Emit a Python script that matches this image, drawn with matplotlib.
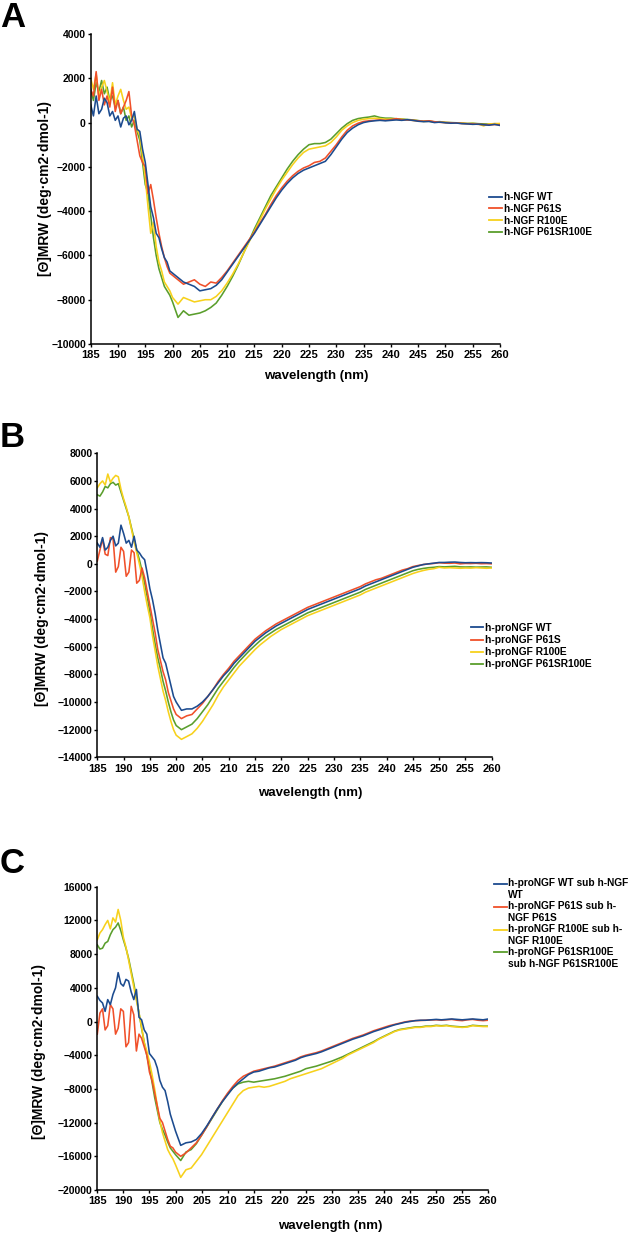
import numpy as np
import matplotlib
matplotlib.use("Agg")
import matplotlib.pyplot as plt
from matplotlib.legend_handler import HandlerLine2D

plt.rcParams['font.family'] = ['Liberation Sans', 'DejaVu Sans']
plt.rcParams['font.weight'] = 'bold'

# 0.5 nm steps 185-200, then 1 nm steps 201-260
wavelength = [185 + 0.5 * i for i in range(31)] + list(range(201, 261))

# ---------- Panel A: h-NGF ----------
A_WT = [800, 300, 1200, 400, 600, 1100, 900, 300, 500, 100,
        300, -200, 200, 300, -100, 100, 500, -300, -400, -1200,
        -1800, -2800, -3800, -4300, -5000, -5200, -5700, -6100, -6300, -6700, -6800,
        -7000, -7200, -7300, -7400,
        -7600, -7550, -7500, -7350, -7100, -6750, -6400, -6050, -5700, -5350,
        -5000, -4600, -4200, -3800, -3400, -3050, -2750, -2500, -2300, -2150,
        -2050, -1950, -1850, -1750, -1450, -1100, -750, -450, -250, -100,
        0, 50, 80, 100, 80, 100, 120, 100, 130, 100,
        60, 40, 50, 0, 20, -10, -30, -20, -50, -60,
        -80, -70, -100, -120, -80, -130]
A_P61S = [1500, 1200, 2300, 1000, 1500, 800, 1200, 700, 1600, 500,
          1000, 400, 700, 1000, 1400, 300, -100, -800, -1500, -1800,
          -2000, -3200, -2800, -3500, -4300, -5000, -5600, -6100, -6500, -6800, -6900,
          -7100, -7300, -7200, -7100,
          -7300, -7400, -7200, -7250, -7000, -6700, -6350, -6000, -5650, -5300,
          -4950, -4550, -4150, -3700, -3300, -2950, -2650, -2400, -2200, -2050,
          -1950, -1800, -1750, -1600, -1300, -1000, -650, -350, -150, -30,
          50, 80, 100, 120, 100, 130, 180, 130, 120, 100,
          80, 60, 80, 40, 10, 0, -10, -20, -40, -50,
          -60, -80, -90, -100, -90, -100]
A_R100E = [2000, 1500, 2200, 1200, 1600, 1900, 1400, 900, 1800, 800,
           1200, 1500, 1000, 600, 700, 200, 300, -300, -600, -1500,
           -2500, -3800, -5000, -4500, -5600, -6300, -6700, -7200, -7400, -7600, -7900,
           -8200, -7900, -8000, -8100,
           -8050, -8000, -8000, -7850, -7600, -7250, -6850, -6400, -5900, -5400,
           -4900, -4400, -3900, -3450, -3000, -2600, -2250, -1900, -1600, -1350,
           -1200, -1150, -1100, -1050, -900, -650, -350, -150, 0, 100,
           150, 180, 200, 180, 150, 160, 140, 150, 120, 100,
           80, 50, 60, 20, 30, 0, -10, -20, -30, -50,
           -40, -60, -150, -60, -50, -40]
A_P61SR100E = [1500, 1000, 1800, 1400, 1900, 1300, 1600, 1000, 1200, 700,
               1000, 400, 700, 100, 300, -200, 100, -400, -800, -1800,
               -2800, -3200, -4200, -5200, -6000, -6600, -7000, -7400, -7600, -7800, -8100,
               -8800, -8500, -8700, -8650,
               -8600, -8500, -8350, -8150, -7800, -7400, -6950, -6450, -5900, -5350,
               -4800, -4300, -3800, -3300, -2900, -2500, -2100, -1750, -1450, -1200,
               -1000, -950, -950, -900, -750, -500, -250, -50, 100, 180,
               220, 250, 300, 230, 200, 200, 170, 160, 140, 120,
               90, 60, 70, 30, 40, 10, 0, -10, -20, -40,
               -30, -50, -60, -70, -50, -60]

# ---------- Panel B: h-proNGF ----------
B_WT = [1500, 1200, 1900, 1000, 1200, 1700, 2000, 1300, 1500, 2800,
        2200, 1500, 1700, 1200, 2000, 1000, 800, 500, 300, -700,
        -1800, -2600, -3600, -4800, -5800, -6800, -7200, -8000, -8800, -9600, -10000,
        -10600, -10500, -10500, -10300,
        -10000, -9600, -9100, -8600, -8100, -7700, -7200, -6800, -6400, -6000,
        -5600, -5300, -5000, -4750, -4500, -4300, -4100, -3900, -3700, -3500,
        -3300, -3150, -3000, -2850, -2700, -2550, -2400, -2250, -2100, -1950,
        -1800, -1600, -1450, -1300, -1150, -1000, -850, -700, -550, -400,
        -250, -150, -50, 0, 50, 100, 100, 120, 130, 100,
        80, 90, 80, 90, 80, 60]
B_P61S = [200, 1000, 1800, 700, 600, 1900, 1800, -600, -200, 1200,
          900, -900, -600, 1000, 800, -1400, -1200, -300, -1000, -2000,
          -3000, -4000, -5000, -6200, -7000, -7800, -8400, -9300, -9900, -10500, -10900,
          -11200, -11000, -10900, -10500,
          -10100, -9600, -9100, -8500, -8000, -7550, -7050, -6650, -6250, -5850,
          -5450, -5150, -4850, -4600, -4350, -4150, -3950, -3750, -3550, -3350,
          -3150, -3000, -2850, -2700, -2550, -2400, -2250, -2100, -1950, -1800,
          -1650, -1450, -1300, -1150, -1050, -900, -750, -600, -450, -350,
          -200, -120, -50, 0, 30, 80, 50, 40, 60, 0,
          30, 20, 40, 10, 20, 0]
B_R100E = [5500, 5800, 6000, 5700, 6500, 5900, 6200, 6400, 6300, 5400,
           4700, 4100, 3400, 2500, 1600, 800, 0, -900, -2000, -3000,
           -3900, -5200, -6300, -7400, -8300, -9200, -9900, -10700, -11400, -12000, -12400,
           -12700, -12500, -12300, -11900,
           -11400, -10800, -10200, -9500, -8900, -8400, -7900, -7400, -7000, -6600,
           -6200, -5850, -5550, -5250, -5000, -4750, -4550, -4350, -4150, -3950,
           -3750, -3600, -3450, -3300, -3150, -3000, -2850, -2700, -2550, -2400,
           -2250, -2050, -1900, -1750, -1600, -1450, -1300, -1150, -1000, -850,
           -700, -580, -480, -400, -350, -250, -300, -280, -300, -320,
           -300, -310, -280, -300, -320, -300]
B_P61SR100E = [5000, 4900, 5200, 5600, 5500, 5800, 5900, 5700, 5800, 5200,
               4600, 4000, 3400, 2600, 1800, 1000, 300, -500, -1400, -2400,
               -3500, -4700, -5800, -6800, -7600, -8500, -9200, -10000, -10700, -11300, -11700,
               -12000, -11800, -11600, -11200,
               -10700, -10200, -9600, -9000, -8500, -8000, -7500, -7050, -6650, -6250,
               -5900, -5550, -5250, -5000, -4750, -4550, -4350, -4150, -3950, -3750,
               -3550, -3400, -3250, -3100, -2950, -2800, -2650, -2500, -2350, -2200,
               -2050, -1850, -1700, -1550, -1400, -1250, -1100, -950, -800, -650,
               -500, -400, -330, -280, -250, -200, -220, -200, -180, -220,
               -230, -220, -240, -230, -220, -250]

# ---------- Panel C: h-proNGF minus h-NGF ----------
C_WT = [3000, 2500, 2200, 1200, 2600, 2000, 3200, 4000, 5800, 4500,
        4200, 5000, 4800, 3500, 2600, 3800, 500, 200, -1000, -1500,
        -3800, -4200, -4600, -5500, -7000, -7800, -8200, -9500, -11000, -12000, -13000,
        -14700, -14400, -14300, -14000,
        -13300, -12400, -11400, -10400, -9500, -8700, -7900, -7300, -6800, -6300,
        -6000, -5900, -5700, -5500, -5400, -5200, -5000, -4800, -4600, -4300,
        -4100, -3950, -3800, -3600, -3350, -3100, -2850, -2600, -2350, -2100,
        -1900, -1700, -1450, -1200, -1000, -800, -600, -400, -250, -100,
        0, 100, 150, 150, 200, 250, 200, 250, 300, 250,
        200, 250, 300, 250, 200, 300]
C_P61S = [-1500, 1000, 1500, -1000, -500, 2000, 1500, -1500, -800, 1500,
          1200, -3000, -2500, 1800, 800, -3500, -1500, -2000, -3000, -4000,
          -6000, -7000, -8500, -10000, -11500, -12000, -13000, -14000, -14800, -15000, -15500,
          -16000, -15600, -15000, -14400,
          -13500, -12500, -11400, -10400, -9400, -8500, -7700, -7000, -6500, -6200,
          -5900, -5750, -5600, -5450, -5300, -5100, -4900, -4700, -4500, -4200,
          -4000, -3850, -3700, -3500, -3250, -3000, -2750, -2500, -2250, -2000,
          -1800, -1600, -1350, -1100, -900, -700, -500, -350, -200, -50,
          50, 100, 120, 150, 180, 200, 150, 200, 250, 150,
          100, 200, 250, 150, 100, 150]
C_R100E = [9700, 10500, 10900, 11500, 12000, 11000, 12300, 11800, 13300, 12000,
           10000, 8800, 7300, 5700, 4100, 2500, 1000, -700, -2500, -3500,
           -4800, -6300, -8000, -10000, -11800, -13200, -14200, -15200, -15800, -16300, -17000,
           -18500, -17600, -17400, -16600,
           -15800, -14800, -13800, -12800, -11800, -10800, -9800, -8800, -8200, -7900,
           -7800, -7700, -7800, -7700, -7500, -7300, -7100, -6800, -6600, -6400,
           -6200, -6000, -5800, -5600, -5300, -5000, -4700, -4400, -4000, -3700,
           -3400, -3100, -2800, -2500, -2100, -1800, -1500, -1200, -1000, -900,
           -800, -700, -700, -600, -600, -500, -550, -500, -600, -650,
           -700, -650, -500, -550, -600, -600]
C_P61SR100E = [9100, 8600, 8700, 9300, 9500, 10300, 10900, 11200, 11700, 10800,
               9700, 8700, 7500, 6000, 4500, 2800, 1000, -800, -2500, -4000,
               -5500, -7200, -9000, -10500, -12000, -12800, -13500, -14300, -15000, -15400, -15800,
               -16500, -15500, -15200, -14500,
               -13500, -12500, -11500, -10500, -9500, -8600, -7900, -7400, -7200, -7100,
               -7200, -7100, -7000, -6900, -6800, -6650, -6500, -6300, -6100, -5900,
               -5600, -5450, -5300, -5100, -4900, -4700, -4450, -4200, -3900, -3600,
               -3300, -3000, -2700, -2400, -2050, -1750, -1450, -1150, -950, -850,
               -750, -650, -650, -550, -550, -450, -500, -450, -550, -600,
               -650, -600, -450, -500, -550, -550]

labels_A = ["h-NGF WT", "h-NGF P61S", "h-NGF R100E", "h-NGF P61SR100E"]
labels_B = ["h-proNGF WT", "h-proNGF P61S", "h-proNGF R100E", "h-proNGF P61SR100E"]
labels_C = ["h-proNGF WT sub h-NGF\nWT", "h-proNGF P61S sub h-\nNGF P61S",
            "h-proNGF R100E sub h-\nNGF R100E", "h-proNGF P61SR100E\nsub h-NGF P61SR100E"]

colors = ["#1c4b8f", "#f0502a", "#f7d11c", "#5a9e2c"]
draw_order = [3, 2, 1, 0]

yticks_A = list(range(-10000, 4001, 2000))
yticks_B = list(range(-14000, 8001, 2000))
yticks_C = list(range(-20000, 16001, 4000))
xticks = list(range(185, 261, 5))


class FirstLineHandler(HandlerLine2D):
    def __init__(self, shift=0.0, **kw):
        super().__init__(**kw)
        self.shift = shift

    def create_artists(self, legend, orig_handle, xdescent, ydescent, width,
                       height, fontsize, trans):
        arts = super().create_artists(legend, orig_handle, xdescent, ydescent,
                                      width, height, fontsize, trans)
        for a in arts:
            a.set_ydata(np.asarray(a.get_ydata(), dtype=float) + self.shift * fontsize)
        return arts


W, H = 628, 1233
fig = plt.figure(figsize=(W / 100, H / 100), dpi=100)


def px_axes(l, r, t, b):
    return fig.add_axes([l / W, 1 - b / H, (r - l) / W, (b - t) / H])


panels = [
    dict(box=(90.7, 500, 34, 344), series=[A_WT, A_P61S, A_R100E, A_P61SR100E],
         labels=labels_A, yticks=yticks_A, letter="A", letter_y=27,
         xlab=(0.552, -0.084), ylab=(-0.095, 0.5),
         leg=dict(x=489, y=192, fs=7.2, ls=0.18, hl=1.3, tp=0.15), multi=False),
    dict(box=(97.3, 491.7, 453.3, 757.3), series=[B_WT, B_P61S, B_R100E, B_P61SR100E],
         labels=labels_B, yticks=yticks_B, letter="B", letter_y=447,
         xlab=(0.539, -0.098), ylab=(-0.122, 0.458),
         leg=dict(x=470.7, y=623, fs=7.4, ls=0.21, hl=1.17, tp=0.23), multi=False),
    dict(box=(97.3, 488.3, 886.7, 1190), series=[C_WT, C_P61S, C_R100E, C_P61SR100E],
         labels=labels_C, yticks=yticks_C, letter="C", letter_y=873,
         xlab=(0.595, -0.099), ylab=(-0.131, 0.456),
         leg=dict(x=494, y=878.5, fs=7.3, ls=0.13, hl=1.25, tp=0.15), multi=True),
]

for p in panels:
    ax = px_axes(*p["box"])
    lines = [None] * 4
    for i in draw_order:
        (ln,) = ax.plot(wavelength, p["series"][i], color=colors[i], lw=1.15,
                        label=p["labels"][i])
        lines[i] = ln
    ax.set_xlim(185, 260)
    ax.set_ylim(p["yticks"][0], p["yticks"][-1])
    ax.set_xticks(xticks)
    ax.set_yticks(p["yticks"])
    for s in ["top", "right"]:
        ax.spines[s].set_visible(False)
    for s in ["left", "bottom"]:
        ax.spines[s].set_linewidth(1.1)
    ax.tick_params(axis="both", direction="out", length=2.5, width=1.0)
    ax.tick_params(axis="x", labelsize=8, pad=2)
    ax.tick_params(axis="y", labelsize=7.5, pad=1)
    for t in ax.get_xticklabels() + ax.get_yticklabels():
        t.set_fontweight("bold")
    ax.set_xlabel("wavelength (nm)", fontsize=9.5, fontweight="bold")
    ax.xaxis.set_label_coords(*p["xlab"])
    ax.set_ylabel("[Θ]MRW (deg·cm2·dmol-1)", fontsize=10, fontweight="bold")
    ax.yaxis.set_label_coords(*p["ylab"])

    lg = p["leg"]
    hmap = {}
    if p["multi"]:
        hmap = {ln: FirstLineHandler(shift=0.6) for ln in lines}
    leg = fig.legend(lines, p["labels"], loc="upper left",
                     bbox_to_anchor=(lg["x"] / W, 1 - lg["y"] / H),
                     frameon=False, borderpad=0, borderaxespad=0,
                     handlelength=lg["hl"], handletextpad=lg["tp"],
                     labelspacing=lg["ls"], prop=dict(size=lg["fs"], weight="bold"),
                     handler_map=hmap)
    for ln in leg.get_lines():
        ln.set_linewidth(1.3)

    fig.text(0.0, 1 - p["letter_y"] / H, p["letter"], fontsize=25,
             fontweight="bold", ha="left", va="baseline")

fig.savefig("out.png", dpi=100)
